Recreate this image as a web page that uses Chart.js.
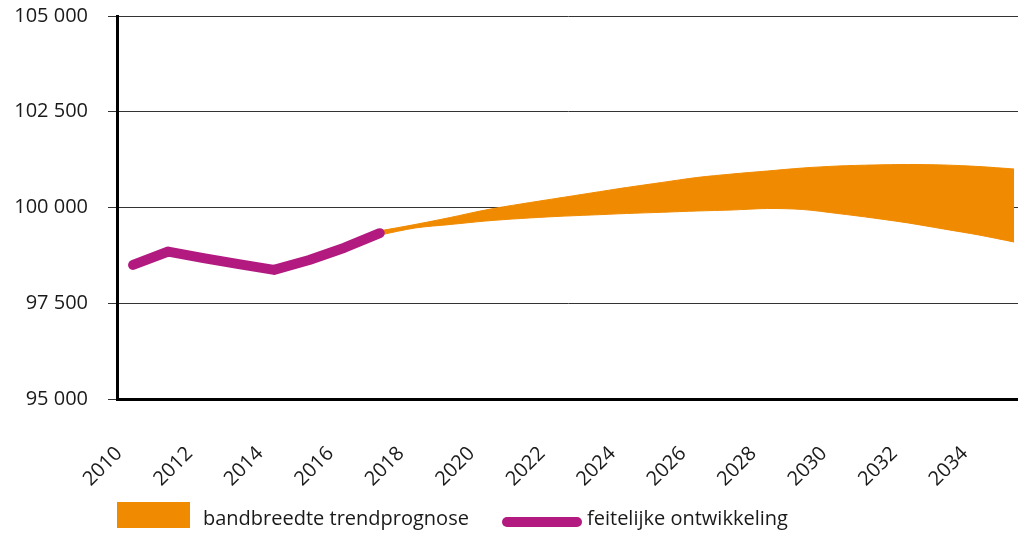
<!DOCTYPE html>
<html>
<head>
<meta charset="utf-8">
<script src="https://cdn.jsdelivr.net/npm/chart.js@4"></script>
<style>
  html, body { margin: 0; padding: 0; background: #fff; overflow: hidden; }
  #wrap { position: relative; width: 1018px; height: 534px; overflow: hidden; }
  #chart { position: absolute; left: 0; top: -16px; }
  .legend-item { position: absolute; font-family: "Open Sans", sans-serif; font-size: 20px; color: #1a1a1a; white-space: nowrap; line-height: 24px; }
  .swatch-band { position: absolute; left: 117px; top: 502px; width: 73px; height: 26px; background: #f08a00; }
  .swatch-line { position: absolute; left: 502px; top: 517px; width: 80px; height: 10px; border-radius: 5px; background: #b21a80; }
</style>
</head>
<body>
<div id="wrap">
  <canvas id="chart" width="1018" height="550"></canvas>
  <div class="swatch-band"></div>
  <div class="legend-item" style="left: 203px; top: 506px;">bandbreedte trendprognose</div>
  <div class="swatch-line"></div>
  <div class="legend-item" style="left: 587px; top: 506px;">feitelijke ontwikkeling</div>
</div>
<script>
// actual development (feitelijke ontwikkeling)
const actualYears = [2010, 2011, 2012, 2013, 2014, 2015, 2016, 2017];
const actualValues = [98500, 98850, 98680, 98520, 98370, 98630, 98950, 99330];

// forecast band (bandbreedte trendprognose)
const bandYears = [2017, 2018, 2019, 2020, 2021, 2022, 2023, 2024, 2025, 2026,
                   2027, 2028, 2029, 2030, 2031, 2032, 2033, 2034, 2035];
const bandUpper = [99390, 99556, 99739, 99935, 100091, 100235, 100379, 100522, 100653, 100783,
                   100875, 100953, 101031, 101083, 101110, 101123, 101110, 101070, 101005];
const bandLower = [99280, 99465, 99556, 99647, 99713, 99765, 99804, 99843, 99875, 99909,
                   99935, 99974, 99948, 99843, 99726, 99595, 99439, 99282, 99099];

const xTickYears = [2010, 2012, 2014, 2016, 2018, 2020, 2022, 2024, 2026, 2028, 2030, 2032, 2034];
const yTicks = [95000, 97500, 100000, 102500, 105000];

const ORANGE = '#f08a00';
const PURPLE = '#b21a80';
const FONT = "'Open Sans', sans-serif";

const toPoints = (xs, ys) => xs.map((x, i) => ({ x: x, y: ys[i] }));

new Chart(document.getElementById('chart').getContext('2d'), {
    type: 'line',
    data: {
        datasets: [
            {
                label: 'feitelijke ontwikkeling',
                data: toPoints(actualYears, actualValues),
                borderColor: PURPLE,
                borderWidth: 10,
                borderCapStyle: 'round',
                borderJoinStyle: 'round',
                pointRadius: 0,
                tension: 0,
                fill: false,
                order: 0
            },
            {
                label: 'bandbreedte trendprognose',
                data: toPoints(bandYears, bandUpper),
                borderColor: ORANGE,
                backgroundColor: ORANGE,
                borderWidth: 1,
                pointRadius: 0,
                tension: 0.3,
                fill: '+1',
                order: 1
            },
            {
                label: 'band lower',
                data: toPoints(bandYears, bandLower),
                borderColor: ORANGE,
                borderWidth: 1,
                pointRadius: 0,
                tension: 0.3,
                fill: false,
                order: 1
            }
        ]
    },
    options: {
        responsive: false,
        animation: false,
        layout: { padding: { top: 0, right: 0, left: 0, bottom: 0 } },
        plugins: {
            legend: { display: false },
            tooltip: { enabled: false }
        },
        scales: {
            x: {
                type: 'linear',
                min: 2009.545,
                max: 2035.11,
                afterBuildTicks: (scale) => {
                    scale.ticks = xTickYears.map(v => ({ value: v }));
                },
                afterFit: (scale) => {
                    scale.height = 135;
                    scale.paddingLeft = 0;
                    scale.paddingRight = 0;
                },
                grid: { display: false, drawTicks: false },
                border: { display: true, color: '#000', width: 3 },
                ticks: {
                    autoSkip: false,
                    maxRotation: 45,
                    minRotation: 45,
                    padding: 43,
                    labelOffset: -14,
                    color: '#1a1a1a',
                    font: { family: FONT, size: 20 },
                    callback: (v) => String(v)
                }
            },
            y: {
                min: 95000,
                max: 105000,
                afterBuildTicks: (scale) => {
                    scale.ticks = yTicks.map(v => ({ value: v }));
                },
                afterFit: (scale) => { scale.width = 117; },
                grid: { color: '#333', lineWidth: 1, tickLength: 9, drawTicks: true },
                border: { display: true, color: '#000', width: 3 },
                ticks: {
                    padding: 20,
                    color: '#1a1a1a',
                    font: { family: FONT, size: 20 },
                    callback: (v) => String(v).replace(/\B(?=(\d{3})+(?!\d))/g, ' ')
                }
            }
        }
    }
});
</script>
</body>
</html>
